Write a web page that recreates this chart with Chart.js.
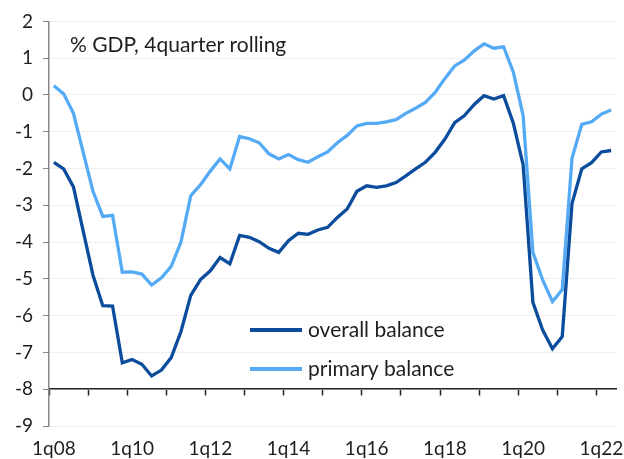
<!DOCTYPE html>
<html><head><meta charset="utf-8">
<script src="https://cdn.jsdelivr.net/npm/chart.js@4"></script>
<style>html,body{margin:0;padding:0;background:#fff}#wrap{width:624px;height:459px;position:relative}</style>
</head><body><div id="wrap"><canvas id="c" width="624" height="459"></canvas></div>
<script>
// Categories: quarters 1q08 .. 2q22
const years = ['08','09','10','11','12','13','14','15','16','17','18','19','20','21','22'];
const quarters = [];
years.forEach(y => { for (let q = 1; q <= 4; q++) quarters.push(q + 'q' + y); });
quarters.length = 58;

const xTickLabels = ['1q08','1q10','1q12','1q14','1q16','1q18','1q20','1q22'];

const overall = [-1.83, -2.01, -2.5, -3.7, -4.9, -5.73, -5.74, -7.28, -7.19, -7.32, -7.64, -7.48, -7.14, -6.43, -5.45, -5.02, -4.78, -4.42, -4.59, -3.82, -3.87, -3.99, -4.17, -4.28, -3.96, -3.76, -3.79, -3.67, -3.6, -3.33, -3.1, -2.62, -2.47, -2.51, -2.47, -2.38, -2.2, -2.01, -1.83, -1.56, -1.2, -0.75, -0.56, -0.26, -0.02, -0.11, -0.02, -0.77, -1.9, -5.64, -6.39, -6.9, -6.57, -2.95, -2.01, -1.84, -1.55, -1.51];
const primary = [0.25, 0.03, -0.5, -1.56, -2.62, -3.3, -3.27, -4.82, -4.81, -4.87, -5.17, -4.97, -4.66, -4.0, -2.74, -2.44, -2.07, -1.74, -2.01, -1.13, -1.19, -1.3, -1.6, -1.74, -1.62, -1.76, -1.83, -1.68, -1.55, -1.3, -1.1, -0.84, -0.77, -0.77, -0.73, -0.67, -0.5, -0.36, -0.2, 0.07, 0.45, 0.79, 0.95, 1.2, 1.39, 1.27, 1.31, 0.62, -0.56, -4.28, -5.03, -5.62, -5.29, -1.72, -0.8, -0.73, -0.52, -0.41];
const seriesNames = ['overall balance', 'primary balance'];
const titleText = '% GDP, 4quarter rolling';

const DARK = '#0b4c9c';
const LIGHT = '#55aaf5';
const TEXT = '#1e1e1e';
const FONT = 'Lato';

const overlay = {
  id: 'overlay',
  afterDraw(chart) {
    const c = chart.ctx;
    c.save();
    c.fillStyle = TEXT;
    c.font = '21px ' + FONT;
    c.textBaseline = 'alphabetic';
    c.fillText(titleText, 70, 52);
    chart.data.datasets.forEach((ds, i) => {
      const y = 330 + i * 39;
      c.strokeStyle = ds.borderColor;
      c.lineWidth = 4;
      c.beginPath(); c.moveTo(250, y); c.lineTo(302, y); c.stroke();
      c.textBaseline = 'middle';
      c.fillText(ds.label, 308, y);
    });
    c.restore();
  }
};

new Chart(document.getElementById('c'), {
  type: 'line',
  data: {
    labels: quarters,
    datasets: [
      { label: seriesNames[0], data: overall, borderColor: DARK, borderWidth: 3.3, pointRadius: 0, tension: 0, fill: false, xAxisID: 'x', yAxisID: 'y' },
      { label: seriesNames[1], data: primary, borderColor: LIGHT, borderWidth: 3.3, pointRadius: 0, tension: 0, fill: false, xAxisID: 'x', yAxisID: 'y' }
    ]
  },
  options: {
    responsive: false, animation: false, devicePixelRatio: 1,
    layout: { padding: { top: 21, right: 8, left: 0, bottom: 0 } },
    plugins: { legend: { display: false }, tooltip: { enabled: false } },
    scales: {
      x: {
        type: 'category', position: { y: -8 }, offset: true,
        grid: { offset: true, drawOnChartArea: false, drawTicks: true, tickLength: 6, tickWidth: 1.5,
          tickColor: ctx => (ctx.index % 4 === 0 ? '#222' : 'rgba(0,0,0,0)') },
        border: { display: true, color: '#222', width: 1.5 },
        ticks: { display: false },
        afterFit: s => { s.height = 0; }
      },
      x2: {
        type: 'category', position: 'bottom', offset: true,
        grid: { display: false, drawTicks: false },
        border: { display: false },
        ticks: { autoSkip: false, maxRotation: 0, minRotation: 0, padding: 11, color: TEXT, font: { family: FONT, size: 19 },
          callback: (v, i) => (xTickLabels.includes(quarters[i]) ? quarters[i] : '') },
        afterFit: s => { s.height = 33; }
      },
      y: {
        min: -9, max: 2,
        ticks: { stepSize: 1, padding: 10, color: TEXT, font: { family: FONT, size: 19 } },
        grid: { color: '#eeeeee', tickColor: '#888', tickLength: 6, drawTicks: true },
        border: { color: '#888', width: 1.5 },
        afterFit: s => { s.width = 49; }
      }
    }
  },
  plugins: [overlay]
});
</script>
</body></html>
